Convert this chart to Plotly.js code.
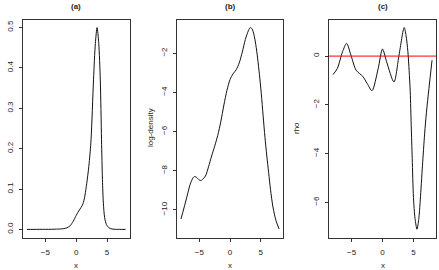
<!DOCTYPE html>
<html>
<head>
<meta charset="utf-8">
<script src="https://cdn.plot.ly/plotly-3.0.1.min.js"></script>
<style>
  html, body { margin: 0; padding: 0; background: #fff; }
  #chart { width: 439px; height: 270px; }
</style>
</head>
<body>
<div id="chart"></div>
<script>
// (a) estimated density
const densX = [-8, -7, -6, -5, -4, -3, -2.5, -2, -1.5, -1, -0.5, 0, 0.5, 1, 1.3, 1.8, 2.1, 2.4, 2.8, 3.1, 3.38, 3.65, 3.9, 4.1, 4.25, 4.4, 4.6, 4.9, 5.3, 5.8, 6.5, 7, 8];
const densY = [0.0000, 0.0001, 0.0002, 0.0002, 0.0003, 0.0008, 0.0012, 0.002, 0.004, 0.009, 0.02, 0.035, 0.048, 0.06, 0.075, 0.125, 0.165, 0.222, 0.37, 0.46, 0.4995, 0.46, 0.37, 0.222, 0.123, 0.065, 0.03, 0.012, 0.004, 0.001, 0.0002, 0.0001, 0.0000];

// (b) log-density
const logX = [-8, -7.5, -7, -6.5, -6, -5.8, -5.5, -5, -4.7, -4.5, -4, -3.5, -3, -2.5, -2, -1.5, -1, -0.5, 0, 0.5, 1, 1.5, 2, 2.5, 3, 3.3, 3.6, 3.9, 4.2, 4.5, 4.8, 5.1, 5.4, 5.7, 6.0, 6.3, 6.6, 7.0, 7.5, 8];
const logY = [-10.47, -9.9, -9.3, -8.7, -8.35, -8.3, -8.33, -8.48, -8.5, -8.45, -8.27, -7.8, -7.25, -6.75, -6.2, -5.5, -4.65, -3.9, -3.35, -3.05, -2.85, -2.5, -1.95, -1.3, -0.85, -0.69, -0.76, -1.05, -1.55, -2.25, -3.1, -4.05, -5.2, -6.3, -7.25, -8.1, -8.95, -9.85, -10.55, -10.97];

// (c) rho
const rhoX = [-8, -7.3, -6.45, -5.8, -5.1, -4.26, -3.2, -2.46, -1.7, -0.7, 0, 0.66, 1.85, 2.67, 3.5, 3.8, 4.1, 4.3, 4.48, 4.64, 4.8, 5.0, 5.25, 5.57, 5.85, 6.1, 6.45, 6.8, 7.1, 7.5, 8];
const rhoY = [-0.76, -0.51, 0.18, 0.52, 0.04, -0.58, -0.83, -1.13, -1.42, -0.51, 0.29, -0.23, -1.06, 0.04, 1.17, 0.85, 0.18, -0.6, -1.47, -2.85, -4.2, -5.8, -6.65, -7.1, -6.7, -5.9, -4.5, -3.2, -2.3, -1.33, -0.17];
const rhoRef = 0;

const panelTitles = ['(a)', '(b)', '(c)'];
const xTicks = [-5, 0, 5];
const yTicksA = [0, 0.1, 0.2, 0.3, 0.4, 0.5];
const yTicksB = [-10, -8, -6, -4, -2];
const yTicksC = [-6, -4, -2, 0];
const xLabel = 'x';
const yLabelB = 'log-density';
const yLabelC = 'rho';

const W = 439, H = 270;
const fx = px => px / W;
const fy = py => 1 - py / H;

const FONT = 'Liberation Sans, Arial, Helvetica, sans-serif';
const INK = '#222';

const lineStyle = { color: '#111', width: 1, shape: 'spline', smoothing: 0.8 };

const traces = [
  { x: densX, y: densY, xaxis: 'x', yaxis: 'y', mode: 'lines', line: lineStyle, hoverinfo: 'skip' },
  { x: logX, y: logY, xaxis: 'x2', yaxis: 'y2', mode: 'lines', line: lineStyle, hoverinfo: 'skip' },
  { x: rhoX, y: rhoY, xaxis: 'x3', yaxis: 'y3', mode: 'lines', line: lineStyle, hoverinfo: 'skip' }
];

const yDom = [fy(237.5), fy(19.5)];
const common = {
  showline: true, mirror: true, linecolor: '#333', linewidth: 1,
  ticks: 'outside', ticklen: 3, tickwidth: 1, tickcolor: '#333',
  showgrid: false, zeroline: false, fixedrange: true,
  tickfont: { family: FONT, size: 8, color: INK }
};
const xCommon = Object.assign({}, common, { range: [-8.64, 8.64], tickmode: 'array', tickvals: xTicks, ticklabelstandoff: 4 });
const yCommon = Object.assign({}, common, { tickangle: -90, tickmode: 'array', ticklabelstandoff: 3 });

const layout = {
  width: W, height: H,
  margin: { l: 0, r: 0, t: 0, b: 0 },
  paper_bgcolor: '#fff', plot_bgcolor: '#fff',
  showlegend: false,
  xaxis: Object.assign({}, xCommon, { domain: [fx(23), fx(129.5)], anchor: 'y' }),
  xaxis2: Object.assign({}, xCommon, { domain: [fx(177), fx(283)], anchor: 'y2' }),
  xaxis3: Object.assign({}, xCommon, { domain: [fx(329), fx(436)], anchor: 'y3' }),
  yaxis: Object.assign({}, yCommon, { domain: yDom, anchor: 'x', range: [-0.02, 0.5195], tickvals: yTicksA, tickformat: '.1f' }),
  yaxis2: Object.assign({}, yCommon, { domain: yDom, anchor: 'x2', range: [-11.41, -0.28], tickvals: yTicksB }),
  yaxis3: Object.assign({}, yCommon, { domain: yDom, anchor: 'x3', range: [-7.44, 1.5], tickvals: yTicksC }),
  shapes: [
    { type: 'line', xref: 'x3 domain', yref: 'y3', x0: 0, x1: 1, y0: rhoRef, y1: rhoRef,
      line: { color: 'red', width: 1 } }
  ],
  annotations: []
};

// panel titles and axis labels
const centers = [(23 + 129.5) / 2, (177 + 283) / 2, (329 + 436) / 2];
panelTitles.forEach((t, i) => {
  layout.annotations.push({ text: '<b>' + t + '</b>', xref: 'paper', yref: 'paper',
    x: fx(centers[i]), y: fy(6), xanchor: 'center', yanchor: 'middle', showarrow: false,
    font: { family: FONT, size: 8, color: INK } });
  layout.annotations.push({ text: xLabel, xref: 'paper', yref: 'paper',
    x: fx(centers[i]), y: fy(265), xanchor: 'center', yanchor: 'middle', showarrow: false,
    font: { family: FONT, size: 8, color: INK } });
});
layout.annotations.push({ text: yLabelB, xref: 'paper', yref: 'paper', textangle: -90,
  x: fx(150), y: fy(128), xanchor: 'center', yanchor: 'middle', showarrow: false,
  font: { family: FONT, size: 8, color: INK } });
layout.annotations.push({ text: yLabelC, xref: 'paper', yref: 'paper', textangle: -90,
  x: fx(296), y: fy(128), xanchor: 'center', yanchor: 'middle', showarrow: false,
  font: { family: FONT, size: 8, color: INK } });

Plotly.newPlot('chart', traces, layout, { staticPlot: true, displayModeBar: false });
</script>
</body>
</html>
